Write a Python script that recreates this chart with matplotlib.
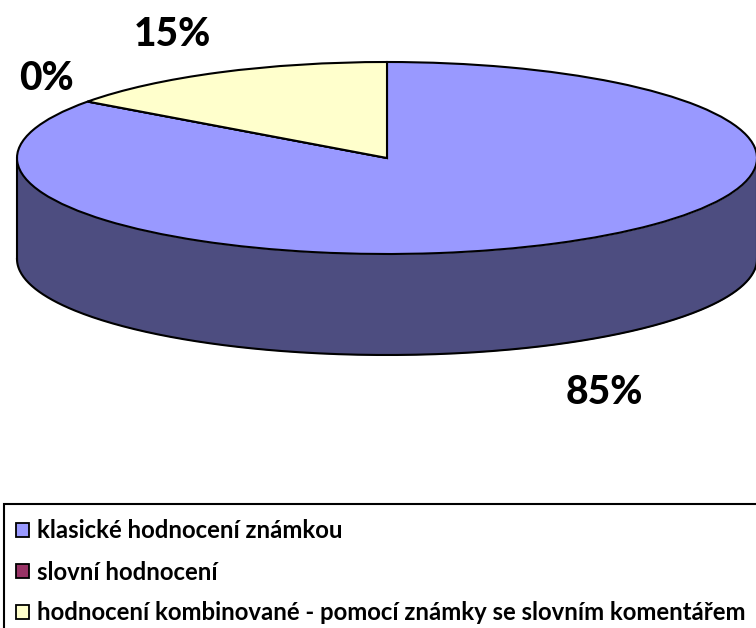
import numpy as np
import matplotlib
matplotlib.use("Agg")
import matplotlib.pyplot as plt
from matplotlib.patches import Rectangle

categories = [
    "klasické hodnocení známkou",
    "slovní hodnocení",
    "hodnocení kombinované - pomocí známky se slovním komentářem",
]
values = [85, 0, 15]
value_labels = ["85%", "0%", "15%"]
colors = ["#9999FF", "#993366", "#FFFFCC"]
side_color = "#4D4D80"

W, H = 756, 628
CX, CY, RX, RY = 387, 158, 370, 96
DEPTH = 101

plt.rcParams["font.family"] = ["Lato", "DejaVu Sans"]
plt.rcParams["font.weight"] = "bold"

fig = plt.figure(figsize=(W / 100, H / 100), dpi=100)
ax = fig.add_axes([0, 0, 1, 1])


def fig_xy(x, y):
    # pixel position in the picture -> figure fraction
    return x / W, 1 - y / H


# side wall of the disc, front half only
depth = DEPTH / RY
theta = np.linspace(np.pi, 2 * np.pi, 300)
ax.fill_between(np.cos(theta), np.sin(theta), np.sin(theta) - depth,
                color=side_color, linewidth=0, zorder=1)
ax.plot(np.cos(theta), np.sin(theta) - depth, color="black", lw=1.5, zorder=2)
ax.plot([-1, -1], [0, -depth], color="black", lw=1.5, zorder=2)
ax.plot([1, 1], [0, -depth], color="black", lw=1.5, zorder=2)

# top of the disc, squashed by the axis limits below
wedges, _ = ax.pie(values, colors=colors, startangle=90, counterclock=False, radius=1,
                   wedgeprops={"edgecolor": "black", "linewidth": 1.5, "zorder": 3})
for w in wedges:
    w.set_zorder(3)

ax.set_aspect("auto")
ax.set_xlim(-CX / RX, (W - CX) / RX)
ax.set_ylim((CY - H) / RY, CY / RY)
ax.axis("off")

label_pos = [(604, 393), (46, 79), (172, 35)]
for txt, (x, y) in zip(value_labels, label_pos):
    fx, fy = fig_xy(x, y)
    fig.text(fx, fy, txt, fontsize=28, weight="black", ha="center", va="center", color="black")

# legend box runs off the right and bottom edge like the original
x0, y0 = fig_xy(4, 504)
fig.patches.append(Rectangle((x0, y0), 1.1, -0.3, transform=fig.transFigure, facecolor="white",
                             edgecolor="black", linewidth=1.5, clip_on=True, figure=fig))

rows = [530, 571, 612]
for name, col, y in zip(categories, colors, rows):
    sx, sy = fig_xy(16, y + 7)
    fig.patches.append(Rectangle((sx, sy), 13 / W, 14 / H, transform=fig.transFigure, facecolor=col,
                                 edgecolor="black", linewidth=1.3, figure=fig))
    tx, ty = fig_xy(37, y + 1)
    fig.text(tx, ty, name, fontsize=17.2, ha="left", va="center", color="black")

fig.savefig("out.png", dpi=100)
